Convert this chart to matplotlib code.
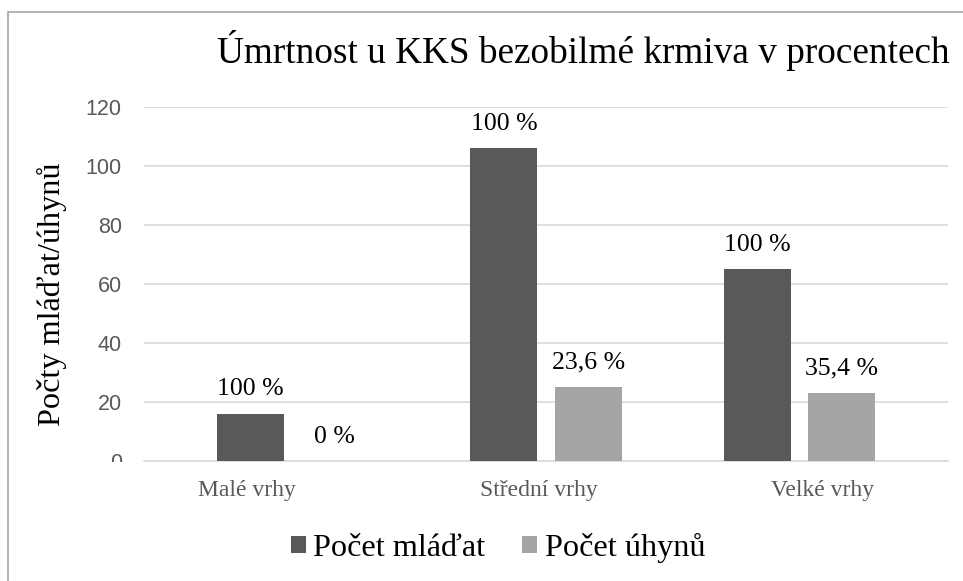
import matplotlib
matplotlib.use("Agg")
import numpy as np
import matplotlib.pyplot as plt
from matplotlib.patches import Rectangle
from matplotlib.transforms import Bbox, TransformedBbox

# Data
categories = ["Malé vrhy", "Střední vrhy", "Velké vrhy"]
mladata = [16, 106, 65]
uhyny = [0, 25, 23]
labels_mladata = ["100 %", "100 %", "100 %"]
labels_uhyny = ["0 %", "23,6 %", "35,4 %"]
series_names = ["Počet mláďat", "Počet úhynů"]
yticks = [0, 20, 40, 60, 80, 100, 120]

SERIF = "Liberation Serif"
SANS = "Liberation Sans"
DARK = "#595959"
LIGHT = "#a5a5a5"
GRID = "#d9d9d9"
TXT_GRAY = "#595959"

W, H = 963, 581
fig = plt.figure(figsize=(W / 100, H / 100), dpi=100)

# chart border
fig.patches.append(Rectangle((8 / W, -0.01), 1.0, (H - 12) / H + 0.01,
                             transform=fig.transFigure, fill=False,
                             edgecolor="#a6a6a6", linewidth=1.2))

ax = fig.add_axes([144 / W, (H - 461) / H, (948 - 144) / W, (461 - 107) / H])

x = np.arange(len(categories))
bw = 0.264
off = 0.166
b1 = ax.bar(x - off, mladata, width=bw, color=DARK, label=series_names[0], zorder=3)
b2 = ax.bar(x + off, uhyny, width=bw, color=LIGHT, label=series_names[1], zorder=3)

for bars, labs in [(b1, labels_mladata), (b2, labels_uhyny)]:
    for rect, lab in zip(bars, labs):
        ax.annotate(lab, (rect.get_x() + rect.get_width() / 2, rect.get_height()),
                    xytext=(0, 13.2), textcoords="offset points", ha="center", va="baseline",
                    fontsize=18.5, family=SERIF, color="black", annotation_clip=False)

ax.set_xlim(-0.586, 2.586)
ax.set_ylim(0, 120)
ax.set_yticks(yticks)
ax.set_yticklabels([str(v) for v in yticks], family=SANS, fontsize=15.5, color=TXT_GRAY)
ax.set_xticks(x + np.array([-0.18, -0.03, 0.09]))
ax.set_xticklabels(categories, family=SERIF, fontsize=17, color=TXT_GRAY)
ax.tick_params(axis="y", length=0, pad=16)
ax.tick_params(axis="x", length=0, pad=14)
ax.grid(axis="y", color=GRID, linewidth=1.2, zorder=0)
ax.set_axisbelow(True)
for s in ["top", "right", "left"]:
    ax.spines[s].set_visible(False)
ax.spines["bottom"].set_color(GRID)
ax.spines["bottom"].set_linewidth(1.2)

ax.set_ylabel("Počty mláďat/úhynů", family=SERIF, fontsize=23.2, color="black")
ax.yaxis.set_label_coords((67 - 144) / (948 - 144), (461 - 294) / (461 - 107))

fig.text(583 / W, (H - 63) / H, "Úmrtnost u KKS bezobilmé krmiva v procentech",
         ha="center", va="baseline", family=SERIF, fontsize=26.8, color="black")

leg = fig.legend(handles=[b1, b2], labels=series_names, loc="center",
                 bbox_to_anchor=(498 / W, (H - 548) / H), ncol=2, frameon=False,
                 prop={"family": SERIF, "size": 23.2}, handlelength=0.47, handleheight=0.47,
                 handletextpad=0.22, columnspacing=1.15, borderpad=0)

# zero tick label is cut off by the plot area in the original
fig.canvas.draw()
zero_lab = ax.yaxis.get_major_ticks()[0].label1
clip = TransformedBbox(Bbox([[0, (H - 462) / H], [1, 1]]), fig.transFigure)
zero_lab.set_clip_on(True)
zero_lab.set_clip_box(clip)

fig.savefig("out.png", dpi=100, facecolor="white")
